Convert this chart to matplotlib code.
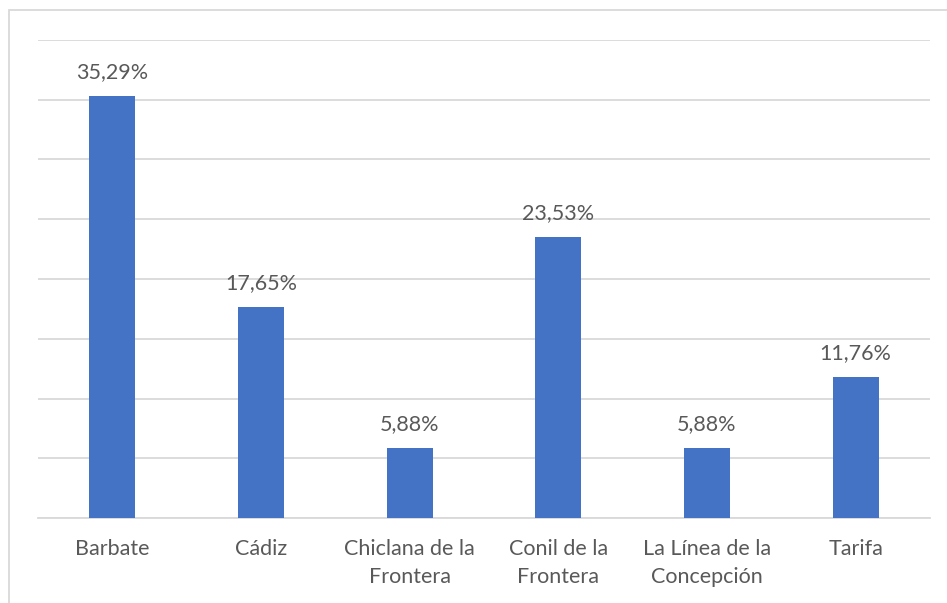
import matplotlib
matplotlib.use("Agg")
import matplotlib.pyplot as plt
from matplotlib.patches import Rectangle

categories = ["Barbate", "Cádiz", "Chiclana de la\nFrontera", "Conil de la\nFrontera",
              "La Línea de la\nConcepción", "Tarifa"]
values = [35.29, 17.65, 5.88, 23.53, 5.88, 11.76]

plt.rcParams['font.family'] = ['Lato', 'DejaVu Sans']
text_col = "#595959"
grid_col = "#d9d9d9"

W, H = 947, 603
fig = plt.figure(figsize=(W / 100, H / 100), dpi=100)
ax = fig.add_axes([38 / W, 1 - 518 / H, (930 - 38) / W, (518 - 40) / H])

x = range(len(categories))
ax.bar(x, values, width=0.31, color="#4472C4", zorder=3)

for xi, v in zip(x, values):
    ax.annotate(f"{v:.2f}".replace(".", ",") + "%", (xi, v), xytext=(0, 10),
                textcoords="offset points", ha="center", va="bottom",
                fontsize=15.5, color=text_col)

ax.set_xlim(-0.5, len(categories) - 0.5)
ax.set_ylim(0, 40)
ax.set_yticks(range(0, 41, 5))
ax.set_yticklabels([])
ax.yaxis.grid(True, color=grid_col, linewidth=1.3, zorder=0)
ax.set_xticks(list(x))
ax.set_xticklabels(categories, fontsize=15.5, color=text_col, linespacing=1.5)
ax.tick_params(axis="both", length=0)
ax.tick_params(axis="x", pad=15)
for s in ["top", "right", "left"]:
    ax.spines[s].set_visible(False)
ax.spines["bottom"].set_color(grid_col)
ax.spines["bottom"].set_linewidth(1.3)

# chart border (cropped at the right and bottom)
fig.add_artist(Rectangle((9 / W, -0.1), 1.2, 1.1 - 10 / H, transform=fig.transFigure,
                         fill=False, edgecolor=grid_col, linewidth=1.3))

fig.savefig("out.png", dpi=100)
